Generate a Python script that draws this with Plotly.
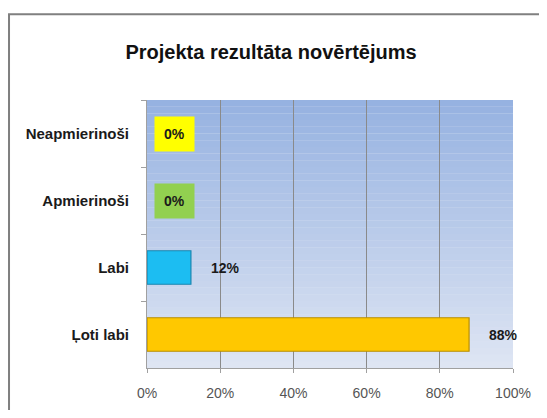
import plotly.graph_objects as go

title = "Projekta rezultāta novērtējums"
categories = ["Neapmierinoši", "Apmierinoši", "Labi", "Ļoti labi"]
values = [0, 0, 12, 88]
bar_colors = ["#FFFF00", "#92D050", "#1CBDF2", "#FFC800"]
line_colors = ["#C8C800", "#6E9E3A", "#1A86B0", "#B88E00"]
x_ticks = [0, 20, 40, 60, 80, 100]

FONT = "Liberation Sans, Arial, sans-serif"

fig = go.Figure()
fig.add_trace(go.Bar(
    y=categories, x=values, orientation="h",
    marker=dict(color=bar_colors,
                line=dict(color=line_colors, width=[1.2 if v > 0 else 0 for v in values])),
    width=0.5, hoverinfo="skip", showlegend=False,
))

# value labels
annotations = []
for cat, v, c in zip(categories, values, bar_colors):
    if v == 0:
        annotations.append(dict(
            x=v, y=cat, xref="x", yref="y", text=f"<b>{v}%</b>",
            showarrow=False, xanchor="left", xshift=7,
            bgcolor=c, borderpad=9,
            font=dict(family=FONT, size=14, color="#1a1a1a"),
        ))
    else:
        annotations.append(dict(
            x=v, y=cat, xref="x", yref="y", text=f"<b>{v}%</b>",
            showarrow=False, xanchor="left", xshift=18,
            font=dict(family=FONT, size=14, color="#1a1a1a"),
        ))

# gradient background of plot area
shapes = []
n = 40
top = (150, 178, 225)
bot = (222, 229, 243)
for i in range(n):
    t = i / (n - 1)
    col = tuple(round(top[k] + (bot[k] - top[k]) * t) for k in range(3))
    shapes.append(dict(
        type="rect", xref="x domain", yref="y domain",
        x0=0, x1=1, y0=1 - (i + 1) / n, y1=1 - i / n,
        fillcolor="rgb(%d,%d,%d)" % col, line=dict(width=0), layer="below",
    ))
# chart frame
shapes.append(dict(
    type="rect", xref="paper", yref="paper",
    x0=-0.377, x1=2, y0=-1, y1=1.32,
    line=dict(color="#808080", width=2), fillcolor="rgba(0,0,0,0)", layer="above",
))

fig.update_layout(
    width=539, height=402,
    margin=dict(l=139, r=34, t=92, b=42, autoexpand=False),
    paper_bgcolor="white", plot_bgcolor="#dde4f2",
    title=dict(text=f"<b>{title}</b>", x=0.488, xanchor="center", y=0.89, yanchor="middle",
               font=dict(family=FONT, size=20, color="#111111")),
    xaxis=dict(range=[0, 100], tickvals=x_ticks, ticktext=[f"{t}%" for t in x_ticks],
               showgrid=True, gridcolor="#8a8a8a", gridwidth=1,
               showline=True, linecolor="#a0a0a0", linewidth=1,
               ticks="outside", ticklen=4, tickcolor="#a0a0a0",
               ticklabelstandoff=8, automargin=False,
               tickfont=dict(family=FONT, size=14, color="#555555"),
               zeroline=False, fixedrange=True),
    yaxis=dict(categoryorder="array", categoryarray=categories, autorange="reversed",
               showline=True, linecolor="#a0a0a0", linewidth=1,
               ticks="outside", ticklen=5, tickcolor="#a0a0a0", tickson="boundaries",
               ticklabelstandoff=14, showgrid=False, automargin=False,
               tickfont=dict(family=FONT, size=15, color="#1a1a1a"),
               fixedrange=True),
    shapes=shapes,
    annotations=annotations,
    bargap=0.5,
)
fig.update_yaxes(tickprefix="<b>", ticksuffix="</b>")

fig.write_html("out.html")
